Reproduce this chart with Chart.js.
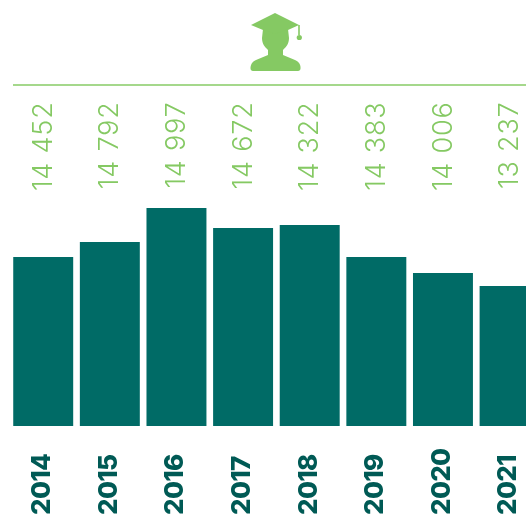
<!DOCTYPE html>
<html>
<head>
<meta charset="utf-8">
<script src="https://cdn.jsdelivr.net/npm/chart.js@4"></script>
<style>
html,body{margin:0;padding:0;background:#fff;width:526px;height:515px;overflow:hidden}
#wrap{position:absolute;left:0;top:0;width:560px;height:515px}
#rule{position:absolute;left:13px;top:84px;width:513px;height:2px;background:#a5d88c}
#icon{position:absolute;left:240px;top:5px}
</style>
</head>
<body>
<div id="wrap"><canvas id="c" width="560" height="515" style="width:560px;height:515px"></canvas></div>
<div id="rule"></div>
<svg id="icon" width="70" height="72" viewBox="240 5 70 72">
<g fill="#85c963">
<path d="M251 25 L275 13 L299 25 L288 30 L275 35 L263 30 Z"/>
<path d="M263 29 L275 34 L288 29 L289 38 C289 44 286 47 283 50 L283 55 L295 60 C299 61.5 301 65 300.5 68.5 C300.5 70 299.5 71 298 71 L253 71 C251.5 71 250.5 70 250.5 68.5 C250.5 65 252 61.5 256 60 L268 55 L268 50 C265 47 262 44 262 38 Z"/>
<rect x="298.2" y="25" width="1.6" height="10"/>
<circle cx="299.3" cy="37.5" r="2.6"/>
</g>
</svg>
<script>
const years = ['2014','2015','2016','2017','2018','2019','2020','2021'];
const printedValues = ['14 452','14 792','14 997','14 672','14 322','14 383','14 006','13 237'];
const barHeights = [169,184,218,198,201,169,153,140];

const labelsPlugin = {
  id:'rotatedLabels',
  afterDatasetsDraw(chart){
    const ctx = chart.ctx, x = chart.scales.x;
    years.forEach((yr,i)=>{
      const px = x.getPixelForValue(i);
      ctx.save();
      ctx.translate(px+0.5,101.5);
      ctx.rotate(-Math.PI/2);
      ctx.textAlign='right';ctx.textBaseline='middle';
      ctx.fillStyle='#85c963';
      ctx.font='300 27px Inter';
      ctx.letterSpacing='0.8px';
      ctx.fillText(printedValues[i],0,0);
      ctx.restore();
      ctx.save();
      ctx.translate(px-1,515);
      ctx.rotate(-Math.PI/2);
      ctx.textAlign='left';ctx.textBaseline='middle';
      ctx.fillStyle='#005a55';
      ctx.font='800 26px Inter';
      ctx.letterSpacing='-0.7px';
      ctx.fillText(yr,0,0);
      ctx.restore();
    });
  }
};

new Chart(document.getElementById('c'),{
  type:'bar',
  data:{labels:years,datasets:[{data:barHeights,backgroundColor:'#006b66',borderWidth:0,barPercentage:1,categoryPercentage:0.9}]},
  options:{
    responsive:false,animation:false,
    layout:{padding:{left:9.9,right:17.1,top:126,bottom:89}},
    plugins:{legend:{display:false},tooltip:{enabled:false}},
    scales:{
      x:{display:false},
      y:{display:false,min:0,max:300}
    }
  },
  plugins:[labelsPlugin]
});
</script>
</body>
</html>
